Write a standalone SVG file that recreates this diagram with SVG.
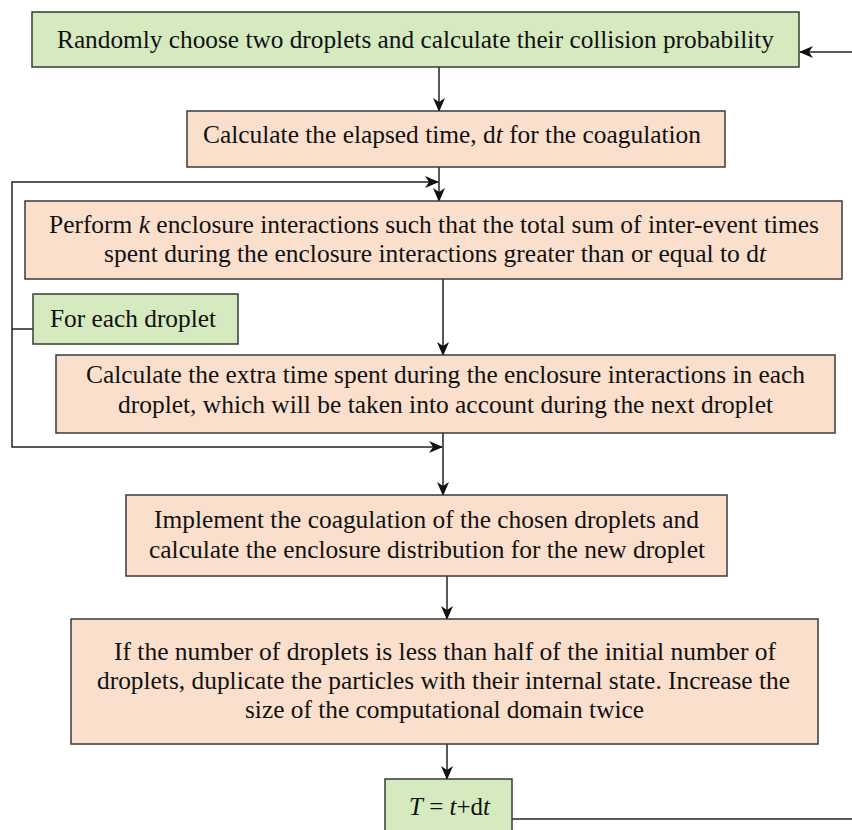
<svg xmlns="http://www.w3.org/2000/svg" width="852" height="830" viewBox="0 0 852 830">
<style>
.g{fill:#d6eabf;stroke:#3a3a3a;stroke-width:1.5}
.s{fill:#fbdfcd;stroke:#3a3a3a;stroke-width:1.5}
.t{font-family:'Liberation Serif','Times New Roman',serif;font-size:26px;fill:#111}
.c{fill:none;stroke:#222;stroke-width:1.5}
.a{marker-end:url(#ah)}
</style>
<defs>
<marker id="ah" markerUnits="userSpaceOnUse" markerWidth="14" markerHeight="14" viewBox="0 0 14 12" refX="13" refY="6" orient="auto">
<path d="M0,0 L14,6 L0,12 L4,6 z" fill="#111"/>
</marker>
</defs>
<g id="connectors">
<path class="c a" d="M439,67 V111"/>
<path class="c a" d="M439,167 V201"/>
<path class="c" d="M33,329 H12"/>
<path class="c a" d="M12,329 V182 H438"/>
<path class="c a" d="M12,329 V447 H442"/>
<path class="c a" d="M443,279 V355"/>
<path class="c a" d="M443,433 V495"/>
<path class="c a" d="M447,576 V619"/>
<path class="c a" d="M447,744 V779"/>
<path class="c" d="M512,819 H852"/>
<path class="c a" d="M852,52 H800"/>
</g>
<g id="n1">
<rect class="g" x="32" y="12" width="767" height="55"/>
<text class="t" x="57" y="48" textLength="717" lengthAdjust="spacingAndGlyphs">Randomly choose two droplets and calculate their collision probability</text>
</g>
<g id="n2">
<rect class="s" x="187" y="111" width="538" height="56"/>
<text class="t" x="203" y="143" textLength="498" lengthAdjust="spacingAndGlyphs">Calculate the elapsed time, d<tspan font-style="italic">t</tspan> for the coagulation</text>
</g>
<g id="n3">
<rect class="s" x="25" y="201" width="817" height="78"/>
<text class="t" x="49" y="233" textLength="770" lengthAdjust="spacingAndGlyphs">Perform <tspan font-style="italic">k</tspan> enclosure interactions such that the total sum of inter-event times</text>
<text class="t" x="104" y="262" textLength="662" lengthAdjust="spacingAndGlyphs">spent during the enclosure interactions greater than or equal to d<tspan font-style="italic">t</tspan></text>
</g>
<g id="n4">
<rect class="g" x="33" y="294" width="205" height="50"/>
<text class="t" x="50" y="327" textLength="166" lengthAdjust="spacingAndGlyphs">For each droplet</text>
</g>
<g id="n5">
<rect class="s" x="56" y="355" width="779" height="78"/>
<text class="t" x="86" y="383" textLength="719" lengthAdjust="spacingAndGlyphs">Calculate the extra time spent during the enclosure interactions in each</text>
<text class="t" x="118" y="413" textLength="655" lengthAdjust="spacingAndGlyphs">droplet, which will be taken into account during the next droplet</text>
</g>
<g id="n6">
<rect class="s" x="126" y="495" width="601" height="81"/>
<text class="t" x="154" y="528" textLength="545" lengthAdjust="spacingAndGlyphs">Implement the coagulation of the chosen droplets and</text>
<text class="t" x="149" y="558" textLength="556" lengthAdjust="spacingAndGlyphs">calculate the enclosure distribution for the new droplet</text>
</g>
<g id="n7">
<rect class="s" x="71" y="619" width="747" height="125"/>
<text class="t" x="114" y="660" textLength="662" lengthAdjust="spacingAndGlyphs">If the number of droplets is less than half of the initial number of</text>
<text class="t" x="97" y="689" textLength="693" lengthAdjust="spacingAndGlyphs">droplets, duplicate the particles with their internal state. Increase the</text>
<text class="t" x="245" y="718" textLength="399" lengthAdjust="spacingAndGlyphs">size of the computational domain twice</text>
</g>
<g id="n8">
<rect class="g" x="385" y="779" width="127" height="60"/>
<text class="t" x="409" y="815" textLength="81" lengthAdjust="spacingAndGlyphs"><tspan font-style="italic">T</tspan> = <tspan font-style="italic">t</tspan>+d<tspan font-style="italic">t</tspan></text>
</g>
</svg>
